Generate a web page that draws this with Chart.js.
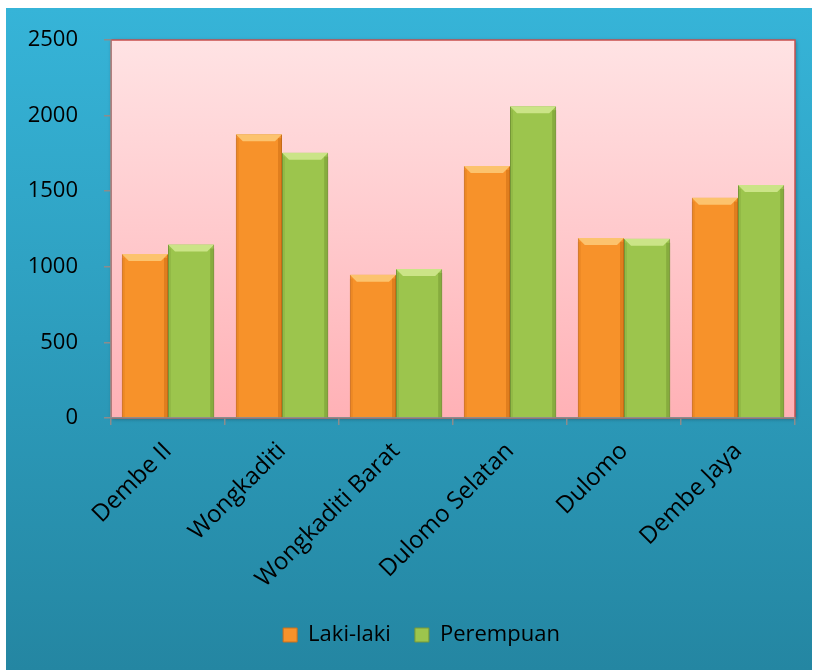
<!DOCTYPE html>
<html>
<head>
<meta charset="utf-8">
<script src="https://cdn.jsdelivr.net/npm/chart.js@4"></script>
<style>
  html, body { margin: 0; padding: 0; background: #ffffff; }
  #wrap { width: 818px; height: 670px; }
</style>
</head>
<body>
<div id="wrap"><canvas id="graph"></canvas></div>
<script>
const categories = ['Dembe II', 'Wongkaditi', 'Wongkaditi Barat', 'Dulomo Selatan', 'Dulomo', 'Dembe Jaya'];
const lakiLaki = [1085, 1877, 948, 1667, 1191, 1457];
const perempuan = [1147, 1755, 986, 2062, 1185, 1541];
const yTicks = [0, 500, 1000, 1500, 2000, 2500];

const FONT = "'Open Sans', sans-serif";

// blue frame + pink plot area behind everything
const backdrop = {
    id: 'backdrop',
    afterLayout(chart) {
        // legend sits a little right of the page centre in the original
        chart.legend.left += 21;
        chart.legend.right += 21;
    },
    beforeDraw(chart) {
        const ctx = chart.ctx;
        const a = chart.chartArea;
        ctx.save();
        let g = ctx.createLinearGradient(0, 8, 0, 670);
        g.addColorStop(0, '#36b4d8');
        g.addColorStop(1, '#2486a2');
        ctx.fillStyle = g;
        ctx.fillRect(6, 8, 806, 662);

        ctx.shadowColor = 'rgba(0,0,0,0.35)';
        ctx.shadowBlur = 4;
        ctx.shadowOffsetX = 1;
        ctx.shadowOffsetY = 1;
        g = ctx.createLinearGradient(0, a.top, 0, a.bottom);
        g.addColorStop(0, '#ffe3e4');
        g.addColorStop(1, '#ffb1b6');
        ctx.fillStyle = g;
        ctx.fillRect(a.left, a.top, a.right - a.left, a.bottom - a.top);
        ctx.shadowColor = 'transparent';
        ctx.strokeStyle = '#c9504d';
        ctx.lineWidth = 1.5;
        ctx.strokeRect(a.left, a.top, a.right - a.left, a.bottom - a.top);
        ctx.restore();
    }
};

// bevelled look on the bars
const bevel = {
    id: 'bevel',
    afterDatasetsDraw(chart) {
        const ctx = chart.ctx;
        const caps = [['#fcc36e', '#c4660f'], ['#cbe487', '#6c8d2c']];
        chart.data.datasets.forEach((ds, i) => {
            chart.getDatasetMeta(i).data.forEach(bar => {
                const l = bar.x - bar.width / 2, r = bar.x + bar.width / 2;
                const t = bar.y, b = bar.base, d = 7;
                ctx.save();
                ctx.fillStyle = caps[i][0];
                ctx.beginPath();
                ctx.moveTo(l, t); ctx.lineTo(r, t); ctx.lineTo(r - d, t + d); ctx.lineTo(l + d, t + d);
                ctx.closePath(); ctx.fill();
                ctx.globalAlpha = 0.45;
                ctx.fillStyle = caps[i][1];
                ctx.fillRect(r - 4, t + 4, 4, b - t - 4);
                ctx.globalAlpha = 0.2;
                ctx.fillRect(l, t + 4, 3, b - t - 4);
                ctx.restore();
            });
        });
    }
};

const config = {
    type: 'bar',
    data: {
        labels: categories,
        datasets: [
            {
                label: 'Laki-laki',
                data: lakiLaki,
                backgroundColor: '#f7922a',
                borderColor: '#c9701c',
                borderWidth: 1
            },
            {
                label: 'Perempuan',
                data: perempuan,
                backgroundColor: '#9cc54d',
                borderColor: '#77993a',
                borderWidth: 1
            }
        ]
    },
    options: {
        responsive: true,
        maintainAspectRatio: false,
        animation: false,
        layout: { padding: { left: 6, right: 23, top: 40, bottom: 14 } },
        datasets: { bar: { categoryPercentage: 0.81, barPercentage: 1.0 } },
        scales: {
            y: {
                min: 0,
                max: 2500,
                afterBuildTicks: s => { s.ticks = yTicks.map(v => ({ value: v })); },
                afterFit: s => { s.width = 105; },
                border: { display: true, color: '#8c8c8c', width: 1.5 },
                grid: { drawOnChartArea: false, tickLength: 7, color: '#8c8c8c', lineWidth: 1.5 },
                ticks: { color: '#000', padding: 26, font: { family: FONT, size: 22 }, callback: v => String(v) }
            },
            x: {
                afterFit: s => { s.height = 182; },
                border: { display: true, color: '#8c8c8c', width: 1.5 },
                grid: { drawOnChartArea: false, tickLength: 7, color: '#8c8c8c', lineWidth: 1.5 },
                ticks: { color: '#000', padding: 12, minRotation: 45, maxRotation: 45, font: { family: FONT, size: 24 } }
            }
        },
        plugins: {
            legend: {
                position: 'bottom',
                labels: {
                    color: '#000',
                    boxWidth: 14,
                    boxHeight: 14,
                    padding: 24,
                    font: { family: FONT, size: 22 }
                }
            },
            tooltip: { enabled: false }
        }
    },
    plugins: [backdrop, bevel]
};

const myChart = new Chart(document.getElementById('graph'), config);
</script>
</body>
</html>
